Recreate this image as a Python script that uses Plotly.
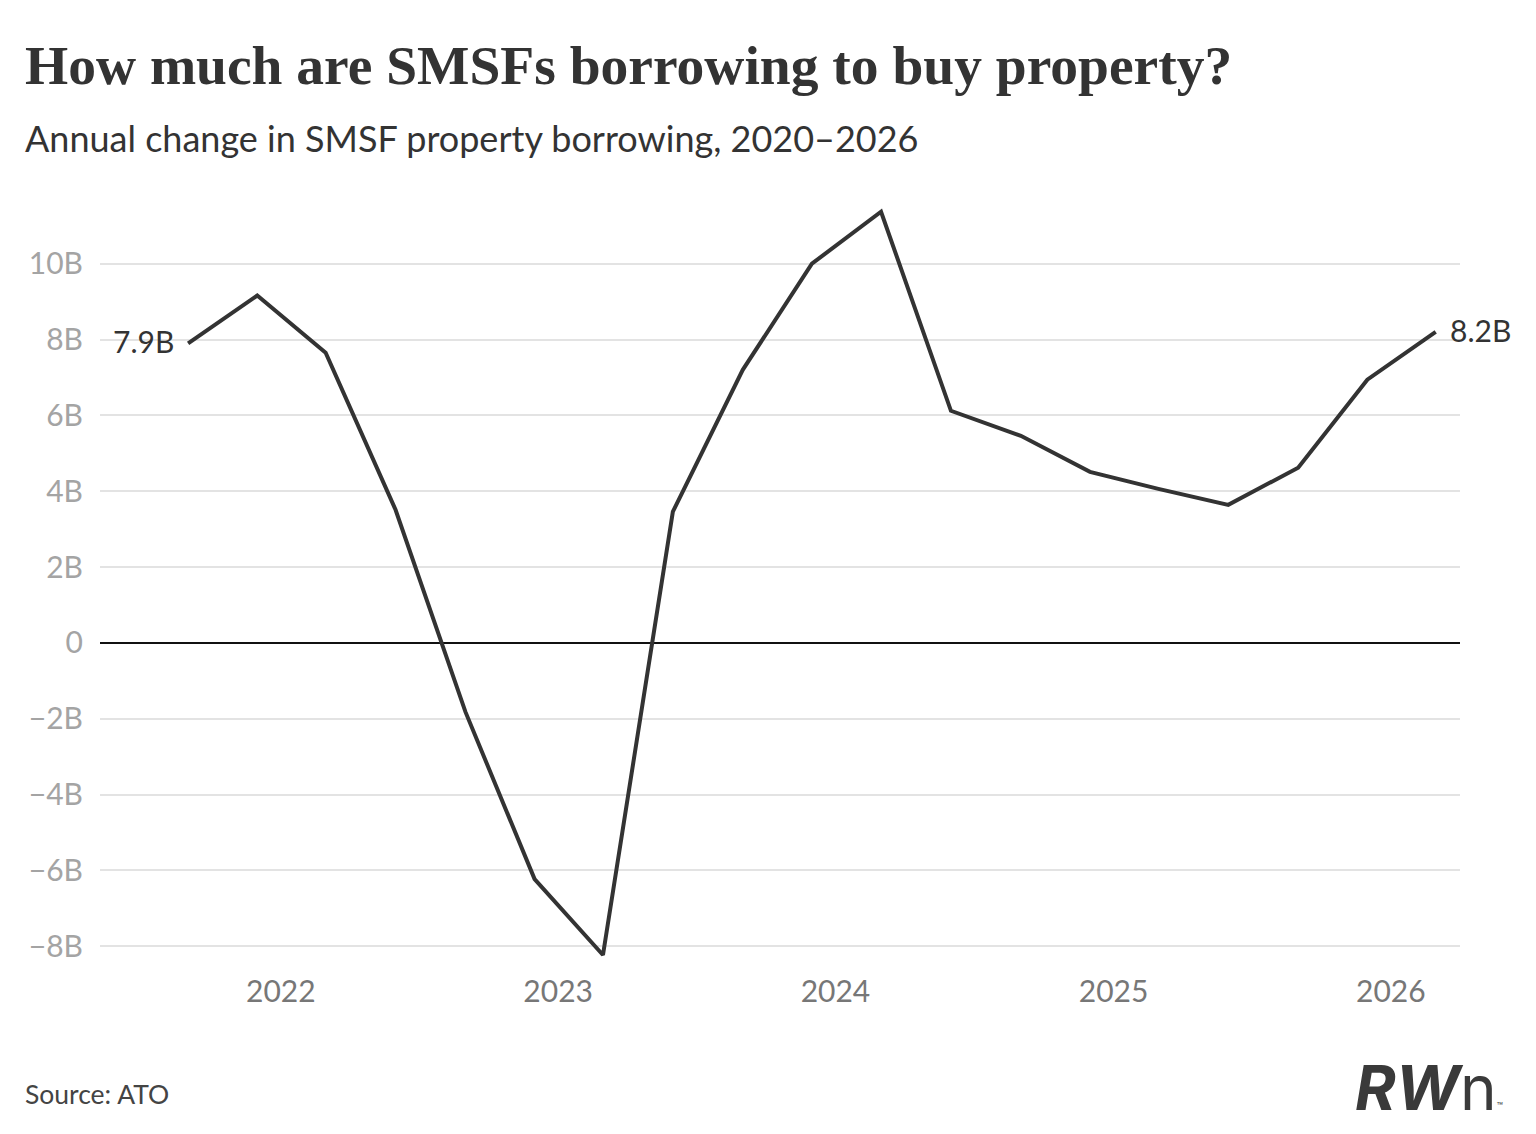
import plotly.graph_objects as go

dates = ["2021-09-01", "2021-12-01", "2022-03-01", "2022-06-01", "2022-09-01",
         "2022-12-01", "2023-03-01", "2023-06-01", "2023-09-01", "2023-12-01",
         "2024-03-01", "2024-06-01", "2024-09-01", "2024-12-01", "2025-03-01",
         "2025-06-01", "2025-09-01", "2025-12-01", "2026-03-01"]
values = [7.9, 9.16, 7.65, 3.51, -1.82, -6.23, -8.23, 3.46, 7.2, 10.0,
          11.37, 6.12, 5.46, 4.51, 4.06, 3.64, 4.62, 6.94, 8.2]
ytick_vals = [-8, -6, -4, -2, 0, 2, 4, 6, 8, 10]
ytick_text = ["\u22128B", "\u22126B", "\u22124B", "\u22122B", "0", "2B", "4B", "6B", "8B", "10B"]
xtick_vals = ["2022-01-01", "2023-01-01", "2024-01-01", "2025-01-01", "2026-01-01"]
xtick_text = ["2022", "2023", "2024", "2025", "2026"]

fig = go.Figure()
fig.add_trace(go.Scatter(x=dates, y=values, mode="lines",
                         line=dict(color="#333333", width=4), hoverinfo="skip"))

fig.add_annotation(x=dates[0], y=values[0], text="7.9B", showarrow=False,
                   xanchor="right", xshift=-12, yshift=2,
                   font=dict(family="Lato", size=30, color="#333333"))
fig.add_annotation(x=dates[-1], y=values[-1], text="8.2B", showarrow=False,
                   xanchor="left", xshift=12, yshift=2,
                   font=dict(family="Lato", size=30, color="#333333"))

fig.update_layout(
    width=1536, height=1134,
    margin=dict(l=100, r=76, t=203, b=165),
    paper_bgcolor="white", plot_bgcolor="white",
    showlegend=False,
    xaxis=dict(type="date", range=["2021-05-08", "2026-04-02"],
               tickvals=xtick_vals, ticktext=xtick_text,
               showgrid=False, zeroline=False, showline=False, ticks="",
               tickfont=dict(family="Lato", size=30, color="#777777"),
               ticklabelstandoff=2),
    yaxis=dict(range=[-8.6, 11.6], tickvals=ytick_vals, ticktext=ytick_text,
               showgrid=True, gridcolor="#e3e3e3", gridwidth=2,
               zeroline=True, zerolinecolor="#111111", zerolinewidth=1.5,
               showline=False, ticks="",
               tickfont=dict(family="Lato", size=30, color="#a4a4a4"),
               ticklabelstandoff=16),
)

fig.add_annotation(xref="paper", yref="paper", xanchor="left", yanchor="middle",
                   x=-77/1360, y=(969-65)/766, showarrow=False,
                   text="<b>How much are SMSFs borrowing to buy property?</b>",
                   font=dict(family="Liberation Serif", size=55.5, color="#333333"))
fig.add_annotation(xref="paper", yref="paper", xanchor="left", yanchor="middle",
                   x=-77/1360, y=(969-138)/766, showarrow=False,
                   text="Annual change in SMSF property borrowing, 2020\u20132026",
                   font=dict(family="Lato", size=36, color="#333333"))
fig.add_annotation(xref="paper", yref="paper", xanchor="left", yanchor="middle",
                   x=-77/1360, y=(969-1094)/766, showarrow=False,
                   text="Source: ATO",
                   font=dict(family="Lato", size=26.5, color="#444444"))
fig.add_annotation(xref="paper", yref="paper", xanchor="right", yanchor="middle",
                   x=(1505-100)/1360, y=(969-1087)/766, showarrow=False,
                   text="<b><i>RW</i></b>n<span style='font-size:10px'>\u2122</span>",
                   font=dict(family="Inter", size=62, color="#3a3a3a"))

fig.write_html("out.html")
